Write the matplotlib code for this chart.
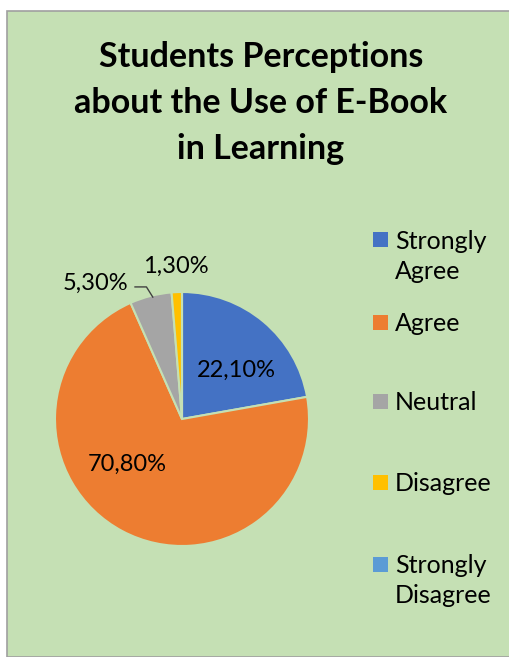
import matplotlib.pyplot as plt
from matplotlib.patches import Rectangle

categories = ['Strongly\nAgree', 'Agree', 'Neutral', 'Disagree', 'Strongly\nDisagree']
values = [22.1, 70.8, 5.3, 1.3, 0.0]
colors = ['#4472C4', '#ED7D31', '#A5A5A5', '#FFC000', '#5B9BD5']

bg = '#C5E0B4'
W, H = 509, 657

fig = plt.figure(figsize=(W / 100, H / 100), dpi=100)
fig.patch.set_facecolor('white')

# green chart area with thin grey border
fig.patches.append(Rectangle((7 / W, 0), 1, (H - 11) / H, transform=fig.transFigure,
                             facecolor=bg, edgecolor='#A0A0A0', linewidth=1.2, zorder=-5))

fig.text(261 / W, 1 - 103 / H, 'Students Perceptions\nabout the Use of E-Book\nin Learning',
         ha='center', va='center', fontsize=24.5, fontweight='bold', family='Lato',
         linespacing=1.55)

# pie
ax = fig.add_axes([55 / W, 1 - 546 / H, 254 / W, 254 / H])
ax.set_facecolor(bg)
wedges, _ = ax.pie(values, colors=colors, startangle=90, counterclock=False,
                   wedgeprops=dict(edgecolor=bg, linewidth=1.5))
ax.set_xlim(-1, 1)
ax.set_ylim(-1, 1)
ax.axis('off')

label_pos = [(0.43, 0.38), (-0.43, -0.36), (-0.68, 1.07), (-0.05, 1.20)]
for v, (x, y) in zip(values, label_pos):
    txt = f"{v:.2f}".replace('.', ',') + '%'
    ax.text(x, y, txt, ha='center', va='center', fontsize=17, family='Lato',
            clip_on=False)
# leader line for the Neutral label
ax.plot([-0.37, -0.28, -0.23], [1.04, 1.04, 0.96], color='#404040', lw=1.0, clip_on=False)

# legend drawn by hand to follow the original spacing
marker_y = [240, 322, 401, 482, 564]
for lab, c, my in zip(categories, colors, marker_y):
    fig.patches.append(Rectangle((373 / W, 1 - (my + 7.5) / H), 15 / W, 15 / H,
                                 transform=fig.transFigure, facecolor=c, edgecolor='none'))
    fig.text(395 / W, 1 - (my - 10) / H, lab, ha='left', va='top', fontsize=18,
             family='Lato', linespacing=1.38)

fig.savefig('out.png', dpi=100, facecolor=fig.get_facecolor())
